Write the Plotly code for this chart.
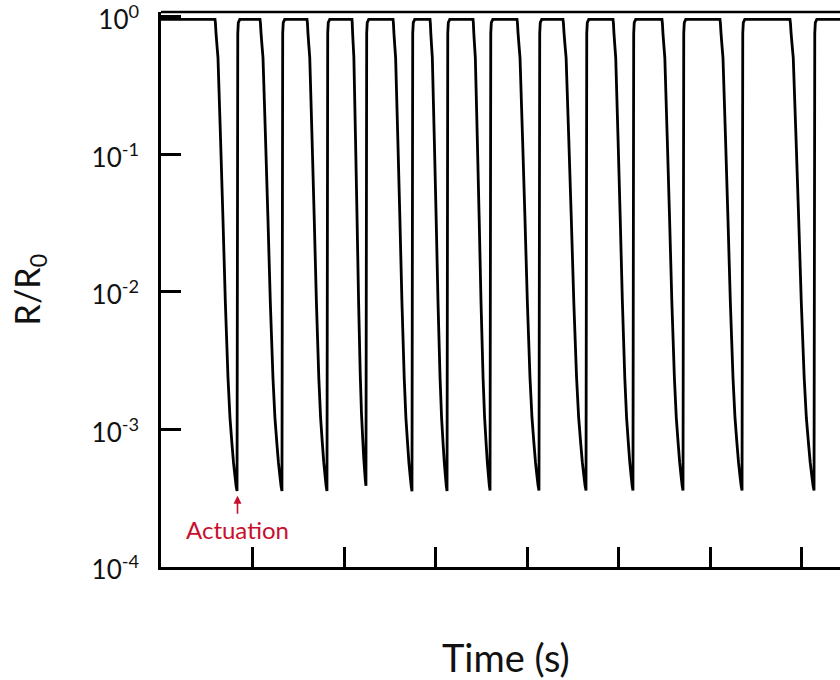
import numpy as np
import plotly.graph_objects as go

# ---- data ----
plateau_value = 0.96
fall_start = [0.590, 1.082, 1.596, 2.087, 2.536, 2.940, 3.410, 3.891, 4.393, 4.940, 5.475, 6.109, 6.874]
min_time = [0.831, 1.322, 1.814, 2.240, 2.743, 3.126, 3.596, 4.131, 4.645, 5.158, 5.705, 6.350, 7.137]
min_value = [3.57e-4, 3.57e-4, 3.57e-4, 3.9e-4, 3.55e-4, 3.57e-4, 3.6e-4,
             3.6e-4, 3.6e-4, 3.6e-4, 3.6e-4, 3.6e-4, 3.6e-4]
# shape of one falling edge: fraction of duration vs fraction of log-drop
fall_t = [0.0, 0.02, 0.045, 0.09, 0.136, 0.25, 0.36, 0.47, 0.59, 0.68, 0.77, 0.84, 0.91, 0.96, 1.0]
fall_s = [0.0, 0.008, 0.028, 0.055, 0.081, 0.25, 0.42, 0.60, 0.76, 0.845, 0.90, 0.94, 0.97, 0.99, 1.0]
# rising edge (offsets in time units after the minimum, fraction of log-recovery)
rise_dt = [0.0, 0.008, 0.014, 0.03]
rise_s = [0.0, 0.97, 0.993, 1.0]
t_start, t_end = 0.0, 7.6

y_ticks = [1, 0.1, 0.01, 0.001, 0.0001]
y_tick_text = ["10<sup>0</sup>", "10<sup>-1</sup>", "10<sup>-2</sup>", "10<sup>-3</sup>", "10<sup>-4</sup>"]
x_ticks = [1, 2, 3, 4, 5, 6, 7]

# ---- build the trace ----
xs, ys = [t_start], [plateau_value]
lp = np.log10(plateau_value)
for fs, mt, mv in zip(fall_start, min_time, min_value):
    lm = np.log10(mv)
    for t, s in zip(fall_t, fall_s):
        xs.append(fs + t * (mt - fs))
        ys.append(10 ** (lp + s * (lm - lp)))
    for dt, s in zip(rise_dt[1:], rise_s[1:]):
        xs.append(mt + dt)
        ys.append(10 ** (lm + s * (lp - lm)))
xs.append(t_end)
ys.append(plateau_value)

fig = go.Figure()
fig.add_trace(go.Scatter(x=xs, y=ys, mode="lines",
                         line=dict(color="black", width=2.8, simplify=False),
                         hoverinfo="skip", showlegend=False))

font_family = "Lato"
red = "#c8102e"
fig.update_layout(
    width=840, height=680,
    margin=dict(l=161, r=0, t=12, b=113, autoexpand=False),
    paper_bgcolor="white", plot_bgcolor="white",
    font=dict(family=font_family, color="#111"),
    xaxis=dict(range=[0, 679 / 91.5], showgrid=False, zeroline=False, automargin=False,
               showline=True, linecolor="black", linewidth=2.5,
               ticks="inside", ticklen=20, tickwidth=2.5, tickcolor="black",
               tickvals=x_ticks, showticklabels=False),
    yaxis=dict(type="log", range=[-4, 0.036], showgrid=False, zeroline=False, automargin=False,
               showline=True, linecolor="black", linewidth=2.5,
               ticks="inside", ticklen=20, tickwidth=2.5, tickcolor="black",
               tickvals=y_ticks, ticktext=y_tick_text,
               tickfont=dict(size=26, family=font_family),
               ticklabelstandoff=14, ticklabeloverflow="allow", ticklabelshift=3,
               title=dict(text="R/R<sub>0</sub>", font=dict(size=34, family=font_family), standoff=41)),
    shapes=[dict(type="line", xref="paper", yref="paper", x0=0, x1=1, y0=1, y1=1,
                 line=dict(color="black", width=2.5))],
    annotations=[
        dict(x=0.836, y=np.log10(3.3e-4), xref="x", yref="y",
             text="Actuation", showarrow=True, arrowhead=2, arrowsize=1,
             arrowwidth=1.6, arrowcolor=red, ax=0, ay=34,
             font=dict(size=24, color=red, family=font_family)),
        dict(x=(506 - 161) / 679, y=-0.162, xref="paper", yref="paper",
             text="Time (s)", showarrow=False, xanchor="center", yanchor="middle",
             font=dict(size=38, family=font_family, color="#111")),
    ],
)

fig.write_html("out.html")
